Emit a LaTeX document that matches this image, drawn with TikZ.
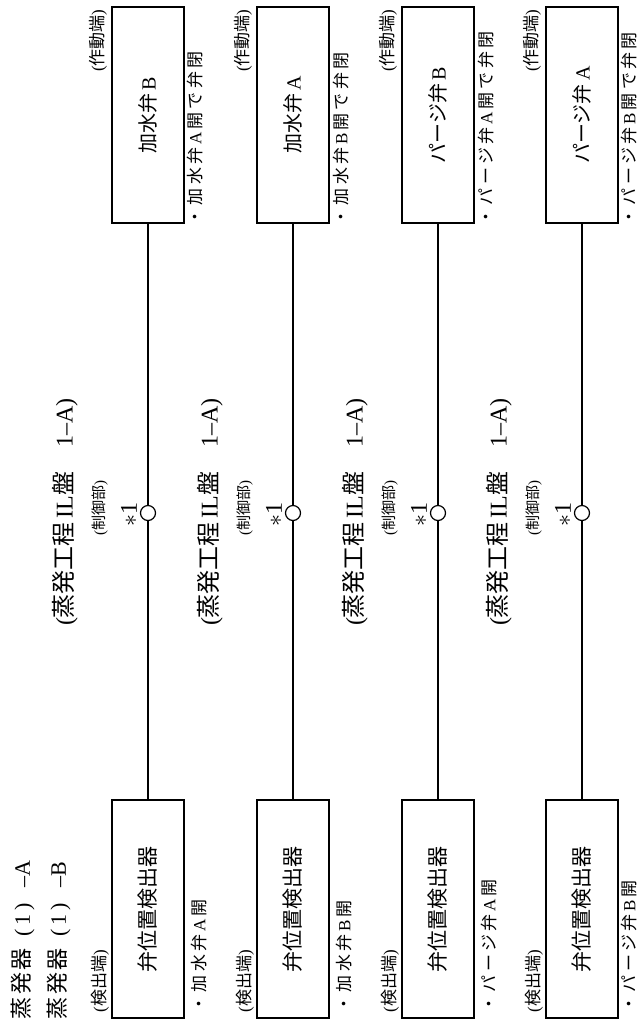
\documentclass[tikz,border=0pt]{standalone}
\usepackage{fontspec}
\setmainfont{Liberation Serif}
\newfontfamily\jp{Noto Sans CJK JP}
\newfontfamily\jpls[LetterSpace=12]{Noto Sans CJK JP}
\newfontfamily\jpla[LetterSpace=20]{Noto Sans CJK JP}
\begin{document}
\begin{tikzpicture}[x=0.5pt,y=-0.5pt,
  abox/.style={draw,line width=0.7pt,rotate=90,minimum width=108pt,minimum height=36pt,inner sep=0pt,font=\fontsize{10}{12}\selectfont},
  dbox/.style={draw,line width=0.7pt,rotate=90,minimum width=109pt,minimum height=36pt,inner sep=0pt,font=\fontsize{10.5}{12}\selectfont},
  junc/.style={circle,draw,line width=0.6pt,fill=white,minimum size=7.5pt,inner sep=0pt},
  lab/.style={rotate=90,inner sep=0pt},
  fnorm/.style={font=\fontsize{8.5}{10}\selectfont},
  fsmall/.style={font=\fontsize{8.5}{10}\selectfont},
  ftiny/.style={font=\fontsize{7.5}{9}\selectfont},
  fbig/.style={font=\fontsize{12}{14}\selectfont},
  ftitle/.style={font=\fontsize{11}{13}\selectfont},
  wire/.style={line width=0.55pt}]
\useasboundingbox (0,0) rectangle (641,1024);
\fill[white] (0,0) rectangle (641,1024);
% title
\node[lab,ftitle,anchor=west] (t1) at (23,1020) {{\jpls 蒸発器}\hspace{6pt}(\,1\,)\hspace{8pt}--A};
\node[lab,ftitle,anchor=west] (t2) at (59,1020) {{\jpls 蒸発器}\hspace{6pt}(\,1\,)\hspace{8pt}--B};
\foreach \i/\L/\v/\t/\o/\ex/\bx in {1/148/加水弁/B/A/195/199, 2/293/加水弁/A/B/341/344, 3/438/パージ弁/B/A/486/489, 4/582/パージ弁/A/B/629/629}{
  \node[abox] (a\i) at (\L,115) {{\jp \v}\,\t};
  \node[dbox] (d\i) at (\L,909) {{\jp 弁位置検出器}};
  \node[junc] (c\i) at (\L,513) {};
  \draw[wire] (c\i) -- (c\i |- a\i.west);
  \draw[wire] (c\i) -- (c\i |- d\i.east);
  \node[lab,fsmall,anchor=east] (w\i) at (\L-50,9) {({\jp 作動端})};
  \node[lab,fnorm,anchor=west] (e\i) at (\ex,226) {{\jpla ・\v}\,\o\,{\jpla 開で弁閉}};
  \node[lab,fbig] (p\i) at (\L-83,512) {({\jp 蒸発工程}\,IL{\jp 盤}\hspace{1em}1--A)};
  \node[lab,ftiny] (s\i) at (\L-48,508) {({\jp 制御部})};
  \node[lab,fbig] (k\i) at (\L-19,514) {$\ast$1};
  \node[lab,fsmall,anchor=west] (x\i) at (\L-48,1013) {({\jp 検出端})};
  \node[lab,fnorm,anchor=west] (b\i) at (\bx,1013) {{\jpla ・\v}\,\o\,{\jpla 開}};
}
\end{tikzpicture}
\end{document}
